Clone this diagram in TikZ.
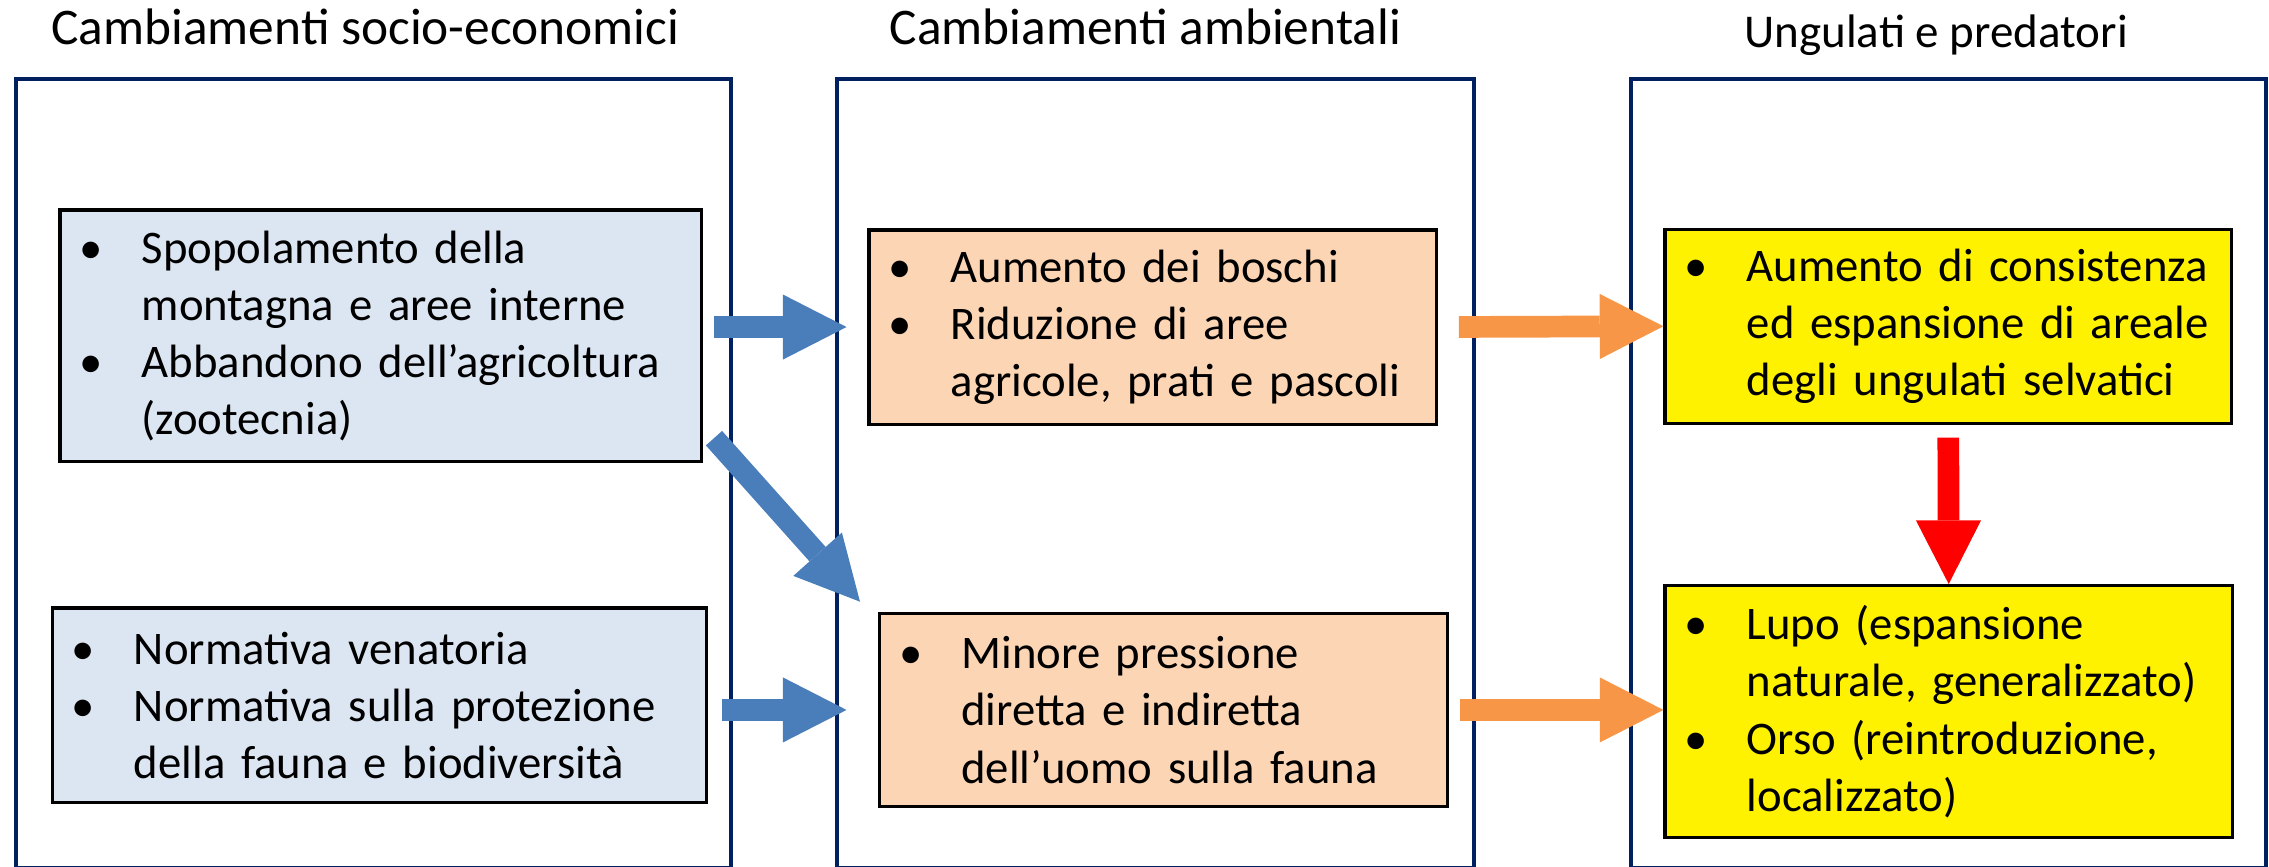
\documentclass[tikz,border=0pt]{standalone}
\usepackage{fontspec}
\setmainfont{Carlito}
\usepackage{xcolor}
\usepackage{tikz}
\usetikzlibrary{calc,arrows.meta}
\definecolor{panelnavy}{RGB}{0,32,96}
\definecolor{paleblue}{RGB}{220,230,242}
\definecolor{paleorange}{RGB}{252,213,181}
\definecolor{arrowblue}{RGB}{74,126,187}
\definecolor{arroworange}{RGB}{247,150,70}

% one line of a bullet list, with or without its bullet
\newcommand{\bul}[1]{\mbox{\makebox[43pt][l]{\textbullet}#1}}
\newcommand{\nobul}[1]{\mbox{\hspace*{43pt}#1}}

\begin{document}
\begin{tikzpicture}[x=1pt,y=-1pt,
    panel/.style={draw=panelnavy, line width=2.8pt, anchor=north west, inner sep=0pt},
    itembox/.style={draw=black, line width=2.2pt, anchor=north west, inner xsep=13.5pt,
        inner ysep=0pt, align=left, font=\fontsize{32.3}{39.5}\selectfont},
    title/.style={anchor=base, font=\fontsize{35.5}{40}\selectfont},
    fatarrow/.style={line width=15pt, -{Triangle[length=44pt,width=45pt,line width=0pt]}}]
    \useasboundingbox (0,0) rectangle (1568,599);

    % Three column panels with their titles
    \node[panel, minimum width=494.1pt, minimum height=545pt] (socio) at (9.7,53.5) {};
    \node[panel, minimum width=440pt, minimum height=545pt] (ambiente) at (577,53.5) {};
    \node[panel, minimum width=438.8pt, minimum height=545pt] (fauna) at (1126,53.5) {};
    \node[title] (tsocio) at (252.5,31) {Cambiamenti socio-economici};
    \node[title] (tambiente) at (791.5,31) {Cambiamenti ambientali};
    \node[title, font=\fontsize{32.5}{38}\selectfont] (tfauna) at (1338,33) {Ungulati e predatori};

    % Socio-economic boxes
    \node[itembox, fill=paleblue, text width=416.5pt, minimum height=174pt] (spop) at (40.3,144)
        {\bul{Spopolamento della}\\ \nobul{montagna e aree interne}\\ \bul{Abbandono dell’agricoltura}\\ \nobul{(zootecnia)}};
    \node[itembox, fill=paleblue, text width=425pt, minimum height=134.6pt] (norm) at (35,419)
        {\bul{Normativa venatoria}\\ \bul{Normativa sulla protezione}\\ \nobul{della fauna e biodiversità}};

    % Environmental boxes
    \node[itembox, fill=paleorange, text width=365.3pt, minimum height=134.2pt] (boschi) at (599.4,157.8)
        {\bul{Aumento dei boschi}\\ \bul{Riduzione di aree}\\ \nobul{agricole, prati e pascoli}};
    \node[itembox, fill=paleorange, text width=365.2pt, minimum height=133pt] (minore) at (606.8,423)
        {\bul{Minore pressione}\\ \nobul{diretta e indiretta}\\ \nobul{dell’uomo sulla fauna}};

    % Ungulates and predators
    \node[itembox, fill=yellow, text width=364.5pt, minimum height=134.1pt] (ungul) at (1149.5,157.3)
        {\bul{Aumento di consistenza}\\ \nobul{ed espansione di areale}\\ \nobul{degli ungulati selvatici}};
    \node[itembox, fill=yellow, text width=365.1pt, minimum height=174.1pt] (lupo) at (1149.5,403.6)
        {\bul{Lupo (espansione}\\ \nobul{naturale, generalizzato)}\\ \bul{Orso (reintroduzione,}\\ \nobul{localizzato)}};

    % Block arrows
    \draw[fatarrow, draw=arrowblue, shorten <=7.7pt, shorten >=14.4pt] (spop.east |- boschi.west) -- (boschi.west);
    \draw[fatarrow, draw=arrowblue] ($(spop.south east)+(7.4,-17.4)$) -- ($(minore.north west)+(-12.5,-7.2)$);
    \draw[fatarrow, draw=arrowblue, shorten <=10pt, shorten >=21.8pt] (norm.east |- minore.west) -- (minore.west);
    \draw[fatarrow, draw=arroworange, shorten <=14.3pt] (boschi.east) -- (ungul.west);
    \draw[fatarrow, draw=arroworange, shorten <=8pt] (minore.east) -- (lupo.west |- minore.east);
    \draw[fatarrow, draw=red, shorten <=8.8pt] (ungul.south) -- (lupo.north);
\end{tikzpicture}
\end{document}
